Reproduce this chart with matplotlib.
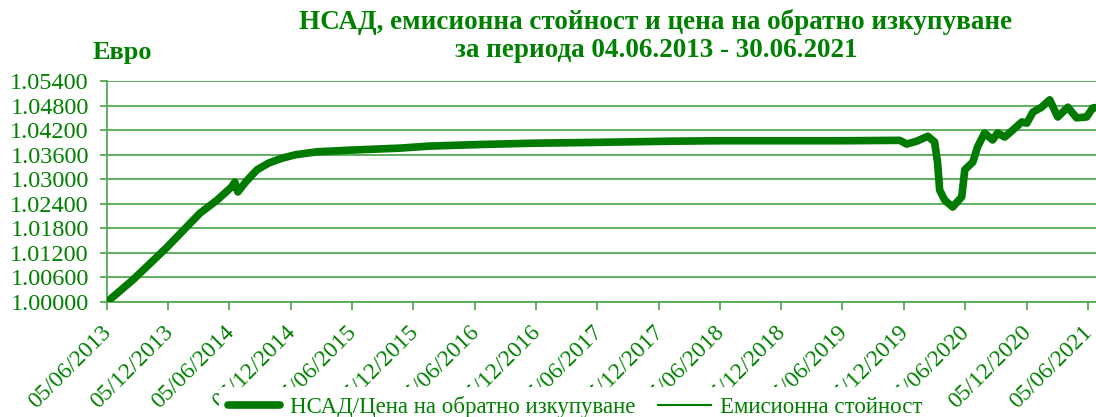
import matplotlib
matplotlib.use("Agg")
import matplotlib.pyplot as plt
import matplotlib.dates as mdates
import matplotlib.transforms as mtransforms
import pandas as pd

# NAV / redemption price (EUR)
nav_dates = [
    "2013-06-05", "2013-08-21", "2013-10-15", "2013-12-01", "2014-03-09",
    "2014-04-29", "2014-06-10", "2014-06-21", "2014-06-30", "2014-07-25",
    "2014-08-26", "2014-10-01", "2014-11-11", "2014-12-20", "2015-02-21",
    "2015-05-30", "2015-10-26", "2016-01-23", "2016-06-29", "2016-11-25",
    "2017-06-01", "2018-01-16", "2018-06-01", "2019-06-01", "2019-11-23",
    "2019-12-14", "2020-01-13", "2020-02-15", "2020-03-06", "2020-03-15",
    "2020-03-21", "2020-04-05", "2020-04-29", "2020-05-26", "2020-06-04",
    "2020-06-28", "2020-07-12", "2020-08-02", "2020-08-26", "2020-09-10",
    "2020-10-01", "2020-10-25", "2020-11-21", "2020-12-06", "2020-12-24",
    "2021-01-19", "2021-02-12", "2021-03-08", "2021-04-07", "2021-05-03",
    "2021-06-02", "2021-06-20", "2021-06-30",
]
nav_values = [
    1.0000, 1.0054, 1.0097, 1.0134, 1.0217,
    1.0249, 1.0280, 1.0293, 1.0269, 1.0295,
    1.0323, 1.0340, 1.0352, 1.0360, 1.0367,
    1.0371, 1.0376, 1.0381, 1.0385, 1.0388,
    1.0390, 1.0393, 1.0394, 1.0394, 1.0395,
    1.0386, 1.0393, 1.0405, 1.0391, 1.0340,
    1.0274, 1.0249, 1.0232, 1.0257, 1.0323,
    1.0342, 1.0379, 1.0413, 1.0396, 1.0413,
    1.0403, 1.0420, 1.0440, 1.0437, 1.0464,
    1.0476, 1.0494, 1.0452, 1.0476, 1.0450,
    1.0452, 1.0474, 1.0475,
]
# issue value coincides with the NAV (hidden under the thick line)
issue_values = list(nav_values)

tick_dates = [
    "2013-06-05", "2013-12-05", "2014-06-05", "2014-12-05", "2015-06-05",
    "2015-12-05", "2016-06-05", "2016-12-05", "2017-06-05", "2017-12-05",
    "2018-06-05", "2018-12-05", "2019-06-05", "2019-12-05", "2020-06-05",
    "2020-12-05", "2021-06-05",
]
y_ticks = [1.000, 1.006, 1.012, 1.018, 1.024, 1.030, 1.036, 1.042, 1.048, 1.054]

title = "НСАД, емисионна стойност и цена на обратно изкупуване\nза периода 04.06.2013 - 30.06.2021"
y_label = "Евро"
series_names = ["НСАД/Цена на обратно изкупуване", "Емисионна стойност"]

TEXT = "#008000"
GRID = "#55AA55"
LINE = "#007A00"
plt.rcParams["font.family"] = ["Liberation Serif", "DejaVu Serif"]

fig = plt.figure(figsize=(10.96, 4.17), dpi=100)
ax = fig.add_axes([107 / 1096, 115 / 417, 989 / 1096, 221 / 417])

d = pd.to_datetime(nav_dates)
ax.plot(d, nav_values, color=LINE, lw=5.5, solid_capstyle="round",
        solid_joinstyle="round", label=series_names[0], zorder=3)
ax.plot(d, issue_values, color=LINE, lw=1.5, label=series_names[1], zorder=4)

ax.set_xlim(pd.Timestamp("2013-06-05"), pd.Timestamp("2021-06-30"))
ax.set_ylim(1.0, 1.054)
ax.set_yticks(y_ticks)
ax.yaxis.set_major_formatter(matplotlib.ticker.FormatStrFormatter("%.5f"))
ax.set_xticks(pd.to_datetime(tick_dates))
ax.xaxis.set_major_formatter(mdates.DateFormatter("%d/%m/%Y"))

ax.grid(axis="y", color=GRID, lw=1.3)
ax.set_axisbelow(True)
for s in ["top", "right"]:
    ax.spines[s].set_visible(False)
for s in ["left", "bottom"]:
    ax.spines[s].set_color(GRID)
    ax.spines[s].set_linewidth(1.3)

ax.tick_params(axis="y", colors=GRID, labelcolor=TEXT, labelsize=17.5, length=5, width=1.3, pad=8)
ax.tick_params(axis="x", colors=GRID, labelcolor=TEXT, labelsize=17, length=6, width=1.3, pad=4)
shift = mtransforms.ScaledTranslation(-6 / 100, -6 / 100, fig.dpi_scale_trans)
for lbl in ax.get_xticklabels():
    lbl.set_rotation(45)
    lbl.set_ha("right")
    lbl.set_va("top")
    lbl.set_rotation_mode("anchor")
    lbl.set_transform(lbl.get_transform() + shift)

fig.text(656 / 1096, 1 - 36 / 417, title, ha="center", va="center", color=TEXT,
         fontsize=19.5, fontweight="bold", linespacing=1.18)
fig.text(93 / 1096, 1 - 52 / 417, y_label, ha="left", va="center", color=TEXT,
         fontsize=19, fontweight="bold")

leg = fig.legend(loc="center", bbox_to_anchor=(575 / 1096, 10 / 417), ncol=2,
                 frameon=True, fontsize=16.5, handlelength=2.3, columnspacing=1.0,
                 handletextpad=0.4, borderpad=0.4, labelcolor=TEXT)
leg.get_frame().set_facecolor("white")
leg.get_frame().set_edgecolor("none")
leg.get_frame().set_alpha(1)

fig.savefig("out.png", dpi=100)
